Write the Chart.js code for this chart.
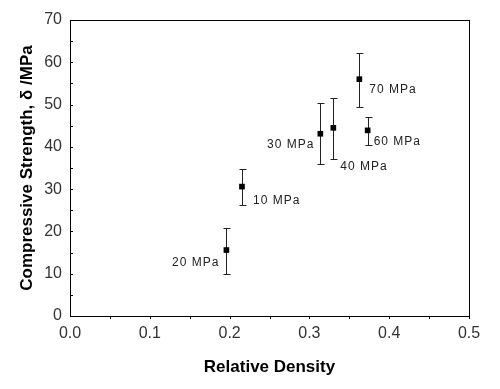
<!DOCTYPE html>
<html>
<head>
<meta charset="utf-8">
<script src="https://cdn.jsdelivr.net/npm/chart.js@4"></script>
<style>
  html, body { margin: 0; padding: 0; background: #fff; }
  #wrap { width: 500px; height: 389px; }
</style>
</head>
<body>
<div id="wrap"><canvas id="chart"></canvas></div>
<script>
// data
var density   = [0.196, 0.2155, 0.3137, 0.330, 0.3626, 0.373];
var strength  = [15.6, 30.6, 43.1, 44.5, 56.0, 43.9];
var errTop    = [20.9, 34.8, 50.3, 51.5, 62.1, 47.1];
var errBottom = [9.9, 26.2, 35.9, 37.2, 49.5, 40.4];
var pointLabels = ['20 MPa', '10 MPa', '30 MPa', '40 MPa', '70 MPa', '60 MPa'];

// where each label sits relative to its point (px) and its alignment
var labelOffsets = [[-7, 13, 'right'], [11, 14, 'left'], [-6, 11, 'right'], [7, 39, 'left'], [10, 10, 'left'], [6, 11, 'left']];

var FONT = '"Liberation Sans", Arial, sans-serif';

// frame, ticks, error bars and point labels
var decor = {
	id: 'decor',
	beforeDatasetsDraw: function(chart){
		var ctx = chart.ctx;
		var xs = chart.scales.x, ys = chart.scales.y;
		var a = chart.chartArea;
		ctx.save();
		ctx.strokeStyle = '#000';
		ctx.lineWidth = 1;
		// box
		ctx.strokeRect(Math.round(a.left) + 0.5, Math.round(a.top) + 0.5, Math.round(a.right - a.left), Math.round(a.bottom - a.top));
		// bottom ticks every 0.05
		ctx.beginPath();
		for (var v = 0.05; v < 0.5; v += 0.05) {
			var px = Math.round(xs.getPixelForValue(v)) + 0.5;
			ctx.moveTo(px, a.bottom);
			ctx.lineTo(px, a.bottom + 3);
		}
		// left ticks every 5
		for (var w = 5; w < 70; w += 5) {
			var py = Math.round(ys.getPixelForValue(w)) + 0.5;
			ctx.moveTo(a.left, py);
			ctx.lineTo(a.left + 3, py);
		}
		ctx.stroke();
		// error bars
		ctx.strokeStyle = '#222';
		ctx.beginPath();
		for (var i = 0; i < density.length; i++) {
			var x = Math.round(xs.getPixelForValue(density[i])) + 0.5;
			var yt = Math.round(ys.getPixelForValue(errTop[i])) + 0.5;
			var yb = Math.round(ys.getPixelForValue(errBottom[i])) + 0.5;
			ctx.moveTo(x, yt); ctx.lineTo(x, yb);
			ctx.moveTo(x - 3, yt); ctx.lineTo(x + 4, yt);
			ctx.moveTo(x - 3, yb); ctx.lineTo(x + 4, yb);
		}
		ctx.stroke();
		// labels
		ctx.fillStyle = '#222';
		ctx.font = '12px ' + FONT;
		ctx.letterSpacing = '1px';
		ctx.textBaseline = 'middle';
		for (var j = 0; j < density.length; j++) {
			var o = labelOffsets[j];
			ctx.textAlign = o[2];
			ctx.fillText(pointLabels[j], xs.getPixelForValue(density[j]) + o[0], ys.getPixelForValue(strength[j]) + o[1]);
		}
		ctx.restore();
	}
};

var points = [];
for (var k = 0; k < density.length; k++) {
	points.push({x: density[k], y: strength[k]});
}

var myChart = new Chart(document.getElementById('chart'), {
	type: 'scatter',
	data: {
		datasets: [{
			data: points,
			pointStyle: 'rect',
			pointRadius: 4,
			backgroundColor: '#000',
			borderColor: '#000',
			borderWidth: 0
		}]
	},
	options: {
		responsive: true,
		maintainAspectRatio: false,
		animation: false,
		layout: { padding: { top: 20, right: 31, left: 0, bottom: 0 } },
		plugins: { legend: { display: false }, tooltip: { enabled: false } },
		scales: {
			x: {
				type: 'linear',
				min: 0, max: 0.5,
				grid: { display: false, drawTicks: false },
				border: { display: false },
				ticks: {
					stepSize: 0.1,
					padding: 8,
					color: '#333',
					font: { family: FONT, size: 16 },
					callback: function(v){ return v.toFixed(1); }
				},
				title: {
					display: true,
					text: 'Relative Density',
					color: '#000',
					font: { family: FONT, size: 17, weight: 'bold' },
					padding: { top: 11, bottom: 11 }
				},
				afterFit: function(s){ s.height = 73; }
			},
			y: {
				type: 'linear',
				min: 0, max: 70,
				grid: { display: false, drawTicks: false },
				border: { display: false },
				ticks: {
					stepSize: 10,
					padding: 8,
					color: '#333',
					font: { family: FONT, size: 16 }
				},
				title: {
					display: true,
					text: 'Compressive Strength, δ /MPa',
					color: '#000',
					font: { family: FONT, size: 17, weight: 'bold' },
					padding: { top: 17, bottom: 17 }
				},
				afterFit: function(s){ s.width = 70; }
			}
		}
	},
	plugins: [decor]
});
</script>
</body>
</html>
